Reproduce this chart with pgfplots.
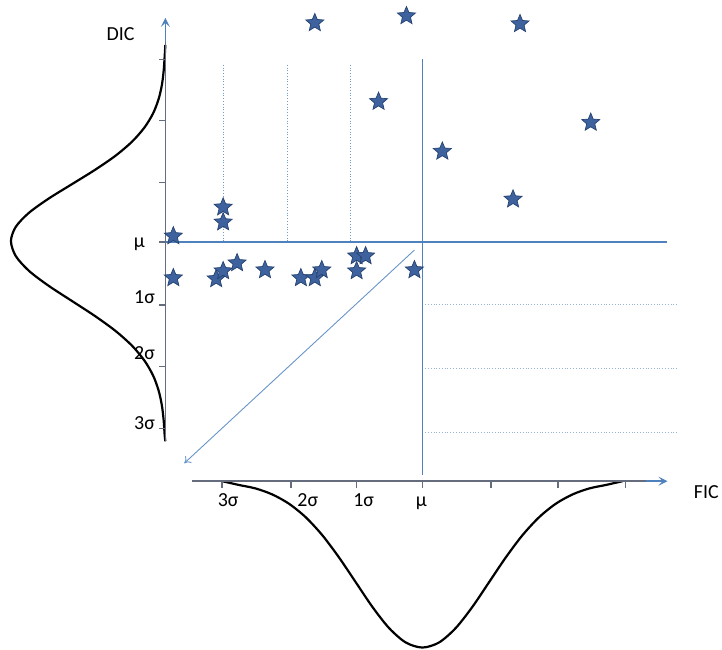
\documentclass[border=0pt]{standalone}
\usepackage{pgfplots}
\pgfplotsset{compat=1.18}
\usepackage{fontspec}
\setmainfont{Carlito}
\usetikzlibrary{arrows.meta}
\definecolor{lblue}{RGB}{79,129,189}
\definecolor{sfill}{RGB}{61,98,158}
\definecolor{sedge}{RGB}{38,66,112}
\definecolor{axgray}{RGB}{100,108,125}
\pgfdeclareplotmark{fstar}{%
 \pgfpathmoveto{\pgfpointpolar{90}{\pgfplotmarksize}}%
 \pgfpathlineto{\pgfpointpolar{126}{0.45\pgfplotmarksize}}%
 \pgfpathlineto{\pgfpointpolar{162}{\pgfplotmarksize}}%
 \pgfpathlineto{\pgfpointpolar{198}{0.45\pgfplotmarksize}}%
 \pgfpathlineto{\pgfpointpolar{234}{\pgfplotmarksize}}%
 \pgfpathlineto{\pgfpointpolar{270}{0.45\pgfplotmarksize}}%
 \pgfpathlineto{\pgfpointpolar{306}{\pgfplotmarksize}}%
 \pgfpathlineto{\pgfpointpolar{342}{0.45\pgfplotmarksize}}%
 \pgfpathlineto{\pgfpointpolar{18}{\pgfplotmarksize}}%
 \pgfpathlineto{\pgfpointpolar{54}{0.45\pgfplotmarksize}}%
 \pgfpathclose
 \pgfusepathqfillstroke}
\begin{document}
\begin{tikzpicture}[font=\fontsize{20}{24}\selectfont]
\begin{axis}[scale only axis, width=722pt, height=652pt,
  xmin=0, xmax=722, ymin=0, ymax=652, y dir=reverse,
  hide axis, clip=false]
\path (axis cs:0,0) rectangle (axis cs:722,652);
% left gaussian (DIC)
\addplot[black, line width=2.2pt, smooth] coordinates {
(166,45) (165.3,56.75) (164.3,71) (162.5,85.25) (159.2,99.5) (153.7,113.75) (145,128)
(132.5,142.25) (115.7,156.5) (95,170.75) (72,185) (49,199.25) (29.2,213.5) (15.8,227.75)
(11,242) (15.8,257) (29.2,272) (49,287) (72,302) (95,317) (115.7,332) (132.5,347)
(145,362) (153.7,377) (159.2,392) (162.5,407) (164.3,422) (165.3,437) (166,443)};
% bottom gaussian (FIC)
\addplot[black, line width=2.2pt, smooth] coordinates {
(223,483) (239.75,486.8) (256.5,490.3) (273.25,496.3) (290,505.6) (306.75,519.1)
(323.5,537.2) (340.25,559.5) (357,584.3) (373.75,609.1) (390.5,630.4) (407.25,644.9)
(424,650) (440.75,644.9) (457.5,630.4) (474.25,609.1) (491,584.3) (507.75,559.5)
(524.5,537.2) (541.25,519.1) (558,505.6) (574.75,496.3) (591.5,490.3) (608.25,486.8) (625,483)};
% dotted guide lines
\addplot[lblue!80, line width=0.8pt, dotted] coordinates {(224,65) (224,242)};
\addplot[lblue!80, line width=0.8pt, dotted] coordinates {(288,65) (288,242)};
\addplot[lblue!80, line width=0.8pt, dotted] coordinates {(352,65) (352,242)};
\addplot[lblue!60, line width=0.8pt, dotted] coordinates {(424,306) (680,306)};
\addplot[lblue!60, line width=0.8pt, dotted] coordinates {(424,370) (680,370)};
\addplot[lblue!60, line width=0.8pt, dotted] coordinates {(424,434) (680,434)};
% mean lines
\addplot[lblue, line width=1.2pt] coordinates {(166,243) (670,243)};
\addplot[lblue, line width=1.2pt] coordinates {(424,59) (424,477)};
% diagonal arrow
\draw[lblue!85, line width=0.9pt, -{To[length=6pt,width=9pt]}] (axis cs:416,251) -- (axis cs:185,465);
% axes
\draw[axgray, line width=1.4pt] (axis cs:166,443) -- (axis cs:166,40);
\draw[lblue, line width=1.4pt, -{Stealth[length=9pt,width=9pt,inset=4pt]}] (axis cs:166,42) -- (axis cs:166,18);
\draw[axgray, line width=1.4pt] (axis cs:193,483) -- (axis cs:650,483);
\draw[lblue, line width=1.4pt, -{Stealth[length=9pt,width=9pt,inset=4pt]}] (axis cs:648,483) -- (axis cs:670,483);
% ticks
\pgfplotsinvokeforeach{60,121,183,243,306,368,430}{
  \draw[axgray, line width=1.4pt] (axis cs:160,#1) -- (axis cs:166,#1);
}
\pgfplotsinvokeforeach{223,292,358,424,493,560,628}{
  \draw[axgray, line width=1.4pt] (axis cs:#1,483) -- (axis cs:#1,490);
}
% stars
\addplot[only marks, mark=fstar, mark size=9.5pt, mark options={fill=sfill, draw=sedge, line width=0.7pt}] coordinates {
(174,237) (174,279) (224,208) (224,223) (217,280) (224,272) (238,264) (266,271)
(302,279) (316,279) (323,271) (358,257) (367,257) (358,272) (416,271)
(408,16) (522,24) (316,23) (380,102) (444,152) (593,123) (515,200)};
% labels
\node at (axis cs:121,34) {DIC};
\node[anchor=west] at (axis cs:693,494) {FIC};
\node[anchor=base east] at (axis cs:149,248) {μ};
\node[anchor=base east] at (axis cs:159,305) {1σ};
\node[anchor=base east] at (axis cs:159,361) {2σ};
\node[anchor=base east] at (axis cs:159,431) {3σ};
\node[anchor=base] at (axis cs:229,508) {3σ};
\node[anchor=base] at (axis cs:309,508) {2σ};
\node[anchor=base] at (axis cs:365,508) {1σ};
\node[anchor=base] at (axis cs:423,508) {μ};
\end{axis}
\end{tikzpicture}
\end{document}
